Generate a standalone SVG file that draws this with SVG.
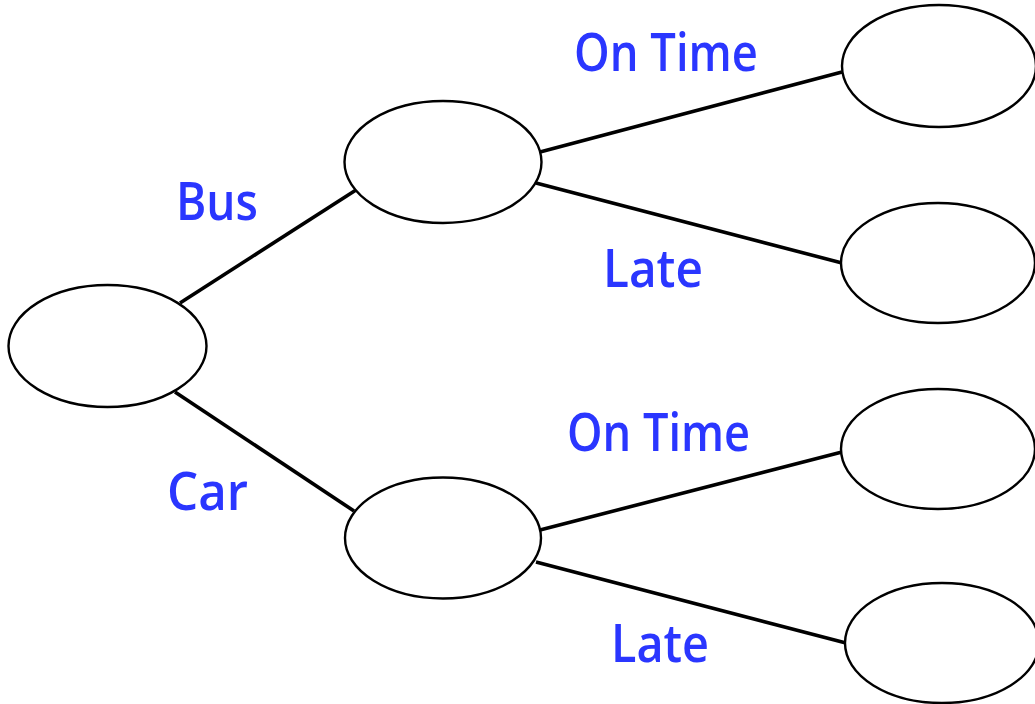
<svg xmlns="http://www.w3.org/2000/svg" width="1035" height="704" viewBox="0 0 1035 704">
<style>
.node{fill:#fff;stroke:#000;stroke-width:2.4}
.edge{stroke:#000;stroke-width:3.6;stroke-linecap:butt;fill:none}
.lbl{font-family:"Open Sans","Liberation Sans",sans-serif;font-size:53px;fill:#2a36ff;font-weight:600}
</style>
<rect width="1035" height="704" fill="#fff"/>
<g id="connectors">
<line class="edge" x1="180" y1="303" x2="356" y2="190"/>
<line class="edge" x1="175" y1="392" x2="354" y2="511"/>
<line class="edge" x1="540" y1="152" x2="842" y2="72"/>
<line class="edge" x1="536" y1="183" x2="842" y2="263"/>
<line class="edge" x1="540" y1="530" x2="842" y2="452"/>
<line class="edge" x1="536" y1="562" x2="846" y2="643"/>
</g>
<g id="root"><ellipse class="node" cx="107.5" cy="346" rx="99" ry="61"/></g>
<g id="bus"><ellipse class="node" cx="443" cy="162" rx="98.5" ry="61"/></g>
<g id="car"><ellipse class="node" cx="443" cy="538" rx="98" ry="60.5"/></g>
<g id="bus-ontime"><ellipse class="node" cx="939" cy="66" rx="97" ry="61"/></g>
<g id="bus-late"><ellipse class="node" cx="938" cy="263" rx="97" ry="60"/></g>
<g id="car-ontime"><ellipse class="node" cx="938" cy="449" rx="97" ry="60"/></g>
<g id="car-late"><ellipse class="node" cx="942" cy="643" rx="97" ry="60"/></g>
<g id="labels">
<text class="lbl" x="176" y="220" textLength="82" lengthAdjust="spacingAndGlyphs">Bus</text>
<text class="lbl" x="167" y="510" textLength="81" lengthAdjust="spacingAndGlyphs">Car</text>
<text class="lbl" x="574" y="71" textLength="184" lengthAdjust="spacingAndGlyphs">On Time</text>
<text class="lbl" x="603" y="287" textLength="100" lengthAdjust="spacingAndGlyphs">Late</text>
<text class="lbl" x="567" y="451" textLength="183" lengthAdjust="spacingAndGlyphs">On Time</text>
<text class="lbl" x="611" y="662" textLength="98" lengthAdjust="spacingAndGlyphs">Late</text>
</g>
</svg>
